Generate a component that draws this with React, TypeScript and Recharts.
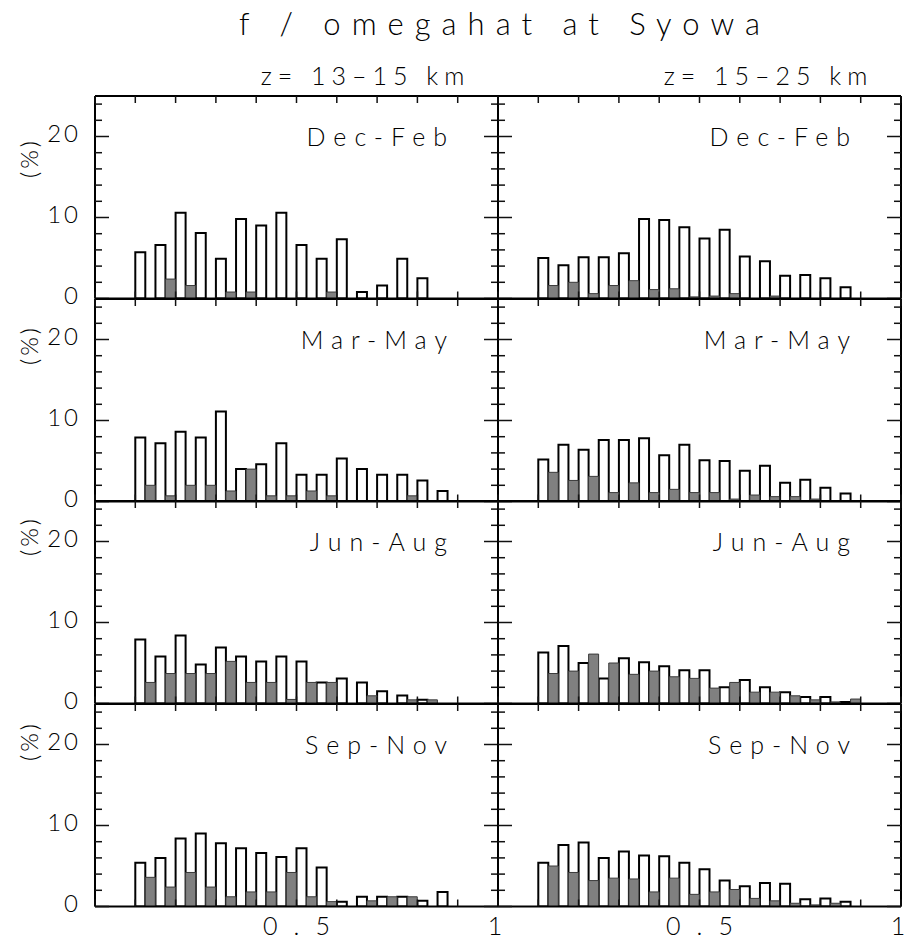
import React from 'react'
import { BarChart, Bar, XAxis, YAxis } from 'recharts'

// bin starts (width 0.05); open bar = first half, filled bar = second half
const bins = [0.1, 0.15, 0.2, 0.25, 0.3, 0.35, 0.4, 0.45, 0.5, 0.55, 0.6, 0.65, 0.7, 0.75, 0.8, 0.85]

const seasons = ['Dec-Feb', 'Mar-May', 'Jun-Aug', 'Sep-Nov']
const layers = ['z= 13–15 km', 'z= 15–25 km']

const djfLowOpen = [5.7, 6.6, 10.6, 8.1, 4.9, 9.8, 9.0, 10.6, 6.6, 4.9, 7.3, 0.8, 1.6, 4.9, 2.5, 0]
const djfLowFilled = [0, 2.4, 1.6, 0, 0.8, 0.8, 0, 0, 0, 0.8, 0, 0, 0, 0, 0, 0]
const djfHighOpen = [5.0, 4.1, 5.1, 5.1, 5.6, 9.8, 9.7, 8.8, 7.4, 8.5, 5.2, 4.6, 2.8, 2.9, 2.5, 1.4]
const djfHighFilled = [1.6, 2.0, 0.6, 1.6, 2.2, 1.1, 1.2, 0.2, 0.3, 0.6, 0, 0.3, 0, 0, 0, 0]

const mamLowOpen = [7.9, 7.2, 8.6, 7.9, 11.1, 4.0, 4.6, 7.2, 3.3, 3.3, 5.3, 4.0, 3.3, 3.3, 2.6, 1.3]
const mamLowFilled = [2.0, 0.7, 2.0, 2.0, 1.3, 4.0, 0.7, 0.7, 1.3, 0.7, 0, 0, 0, 0.7, 0, 0]
const mamHighOpen = [5.2, 7.0, 6.4, 7.6, 7.6, 7.8, 5.7, 7.0, 5.1, 5.0, 3.8, 4.4, 2.3, 2.7, 1.7, 1.0]
const mamHighFilled = [3.6, 2.6, 3.1, 1.1, 2.3, 1.1, 1.5, 1.1, 1.1, 0.3, 0.8, 0.6, 0.6, 0.3, 0, 0]

const jjaLowOpen = [7.9, 5.8, 8.4, 4.8, 6.9, 5.8, 5.2, 5.8, 5.2, 2.6, 3.1, 2.6, 1.5, 1.0, 0.45, 0]
const jjaLowFilled = [2.6, 3.7, 3.7, 3.7, 5.2, 2.6, 2.6, 0.5, 2.6, 2.6, 0, 0.95, 0, 0.45, 0.45, 0]
const jjaHighOpen = [6.3, 7.1, 5.0, 3.1, 5.6, 5.1, 4.6, 4.1, 4.1, 2.0, 2.9, 2.0, 1.4, 0.8, 0.8, 0.2]
const jjaHighFilled = [3.7, 4.0, 6.1, 5.0, 3.6, 4.0, 3.3, 3.1, 1.9, 2.6, 1.4, 1.4, 0.95, 0.45, 0.2, 0.55]

const sonLowOpen = [5.4, 6.0, 8.4, 9.0, 7.8, 7.2, 6.6, 6.1, 7.2, 4.8, 0.6, 1.2, 1.2, 1.2, 0.7, 1.8]
const sonLowFilled = [3.6, 2.4, 4.2, 2.4, 1.2, 1.8, 1.8, 4.2, 1.2, 0.6, 0, 0.7, 1.2, 1.2, 0, 0]
const sonHighOpen = [5.4, 7.6, 7.9, 6.0, 6.8, 6.3, 6.2, 5.4, 4.6, 3.2, 2.5, 2.9, 2.8, 0.9, 1.0, 0.6]
const sonHighFilled = [5.0, 4.2, 3.2, 3.5, 3.4, 1.8, 3.5, 1.5, 1.8, 2.1, 1.0, 0.7, 0.4, 0.2, 0.4, 0]

const panels = [
  [djfLowOpen, djfLowFilled, djfHighOpen, djfHighFilled],
  [mamLowOpen, mamLowFilled, mamHighOpen, mamHighFilled],
  [jjaLowOpen, jjaLowFilled, jjaHighOpen, jjaHighFilled],
  [sonLowOpen, sonLowFilled, sonHighOpen, sonHighFilled],
]

const xTicks = [0, 0.1, 0.2, 0.3, 0.4, 0.5, 0.6, 0.7, 0.8, 0.9, 1]
const yTicks = [0, 2, 4, 6, 8, 10, 12, 14, 16, 18, 20, 22, 24]

const FONT = 'Lato, "DejaVu Sans", sans-serif'
const PLOT_W = 403
const PLOT_H = 202.5
const ROW_TOP = [96, 298.5, 501, 703.5]
const COL_LEFT = [95, 498]
const PAD = 40
const AX = 1 // axes need a non-zero size to be drawn

const tickColor = '#111'

function BottomTick({ x, y, payload, showLabel }: any) {
  const v = payload.value
  const isOne = Math.abs(v - 1) < 1e-6
  const lbl = showLabel && (Math.abs(v - 0.5) < 1e-6 || isOne)
  return (
    <g>
      <line x1={x} y1={y} x2={x} y2={y - 7} stroke={tickColor} strokeWidth={1.5} />
      {lbl && (
        <text
          x={isOne ? x - 3 : x + 8}
          y={y + 22}
          textAnchor="middle"
          dominantBaseline="middle"
          fontFamily={FONT}
          fontWeight={300}
          fontSize={25}
          letterSpacing={isOne ? 0 : 16}
          fill="#000"
        >
          {isOne ? '1' : '0.5'}
        </text>
      )}
    </g>
  )
}

function TopTick({ x, y }: any) {
  return <line x1={x} y1={y} x2={x} y2={y + 7} stroke={tickColor} strokeWidth={1.5} />
}

function LeftTick({ x, y, payload, showLabel }: any) {
  const v = payload.value
  const major = v % 10 === 0
  return (
    <g>
      <line x1={x} y1={y} x2={x + (major ? 14 : 7)} y2={y} stroke={tickColor} strokeWidth={1.5} />
      {showLabel && major && (
        <text x={x - 14} y={y} textAnchor="end" dominantBaseline="middle" fontFamily={FONT} fontWeight={300} fontSize={24} letterSpacing={3} fill="#000">
          {v}
        </text>
      )}
    </g>
  )
}

function RightTick({ x, y, payload }: any) {
  const major = payload.value % 10 === 0
  return <line x1={x} y1={y} x2={x - (major ? 14 : 7)} y2={y} stroke={tickColor} strokeWidth={1.5} />
}

function Panel({ row, col }: { row: number; col: number }) {
  const open = panels[row][col * 2]
  const filled = panels[row][col * 2 + 1]
  const data = bins.map((b, i) => ({ x: b + 0.025, open: open[i], filled: filled[i] }))
  const mL = col === 0 ? 95 : PAD
  const mB = row === 3 ? 45 : PAD
  const isBottom = row === 3
  const axisLine = { stroke: '#000', strokeWidth: 2 }
  return (
    <div style={{ position: 'absolute', left: COL_LEFT[col] - mL - AX, top: ROW_TOP[row] - PAD - AX }}>
      <BarChart
        width={PLOT_W + mL + PAD + 2 * AX}
        height={PLOT_H + PAD + mB + 2 * AX}
        data={data}
        margin={{ top: PAD, right: PAD, bottom: mB, left: mL }}
        barCategoryGap={0}
        barGap={0}
      >
        <XAxis
          xAxisId="b"
          type="number"
          dataKey="x"
          domain={[0, 1]}
          ticks={xTicks}
          interval={0}
          height={AX}
          tickSize={0}
          tickMargin={0}
          tickLine={false}
          axisLine={axisLine}
          tick={(p: any) => <BottomTick {...p} showLabel={isBottom} />}
          allowDataOverflow
        />
        <XAxis
          xAxisId="t"
          orientation="top"
          type="number"
          dataKey="x"
          domain={[0, 1]}
          ticks={xTicks}
          interval={0}
          height={AX}
          tickSize={0}
          tickMargin={0}
          tickLine={false}
          axisLine={axisLine}
          tick={(p: any) => <TopTick {...p} />}
          allowDataOverflow
        />
        <YAxis
          yAxisId="l"
          type="number"
          domain={[0, 25]}
          ticks={yTicks}
          interval={0}
          width={AX}
          tickSize={0}
          tickMargin={0}
          tickLine={false}
          axisLine={axisLine}
          tick={(p: any) => <LeftTick {...p} showLabel={col === 0} />}
          allowDataOverflow
        />
        <YAxis
          yAxisId="r"
          orientation="right"
          type="number"
          domain={[0, 25]}
          ticks={yTicks}
          interval={0}
          width={AX}
          tickSize={0}
          tickMargin={0}
          tickLine={false}
          axisLine={axisLine}
          tick={(p: any) => <RightTick {...p} />}
          allowDataOverflow
        />
        <Bar xAxisId="b" yAxisId="l" dataKey="open" fill="#fff" stroke="#000" strokeWidth={2} isAnimationActive={false} />
        <Bar xAxisId="b" yAxisId="l" dataKey="filled" fill="#808080" stroke="#3a3a3a" strokeWidth={1} isAnimationActive={false} />
      </BarChart>
    </div>
  )
}

const yLabelCenter = [158, 345, 536, 741]

export default function App() {
  const txt: React.CSSProperties = { position: 'absolute', fontFamily: FONT, fontWeight: 300, color: '#000', whiteSpace: 'nowrap', lineHeight: 1 }
  return (
    <div style={{ position: 'absolute', left: 0, top: 0, width: 905, height: 947, background: '#fff', overflow: 'hidden' }}>
      {[0, 1, 2, 3].map((r) => [0, 1].map((c) => <Panel key={`${r}-${c}`} row={r} col={c} />))}
      <div style={{ ...txt, left: 0, width: 1010, top: 8, fontSize: 31, letterSpacing: 11, textAlign: 'center' }}>f / omegahat at Syowa</div>
      {layers.map((l, c) => (
        <div key={l} style={{ ...txt, left: COL_LEFT[c] - 40, width: PLOT_W + 218, top: 63, fontSize: 25, letterSpacing: 6, textAlign: 'center' }}>
          {l}
        </div>
      ))}
      {seasons.map((s, r) =>
        [0, 1].map((c) => (
          <div key={`${s}-${c}`} style={{ ...txt, left: COL_LEFT[c], width: PLOT_W - 51 + 8, top: ROW_TOP[r] + 28, fontSize: 25, letterSpacing: 8, textAlign: 'right' }}>
            {s}
          </div>
        )),
      )}
      {yLabelCenter.map((cy, r) => (
        <div key={r} style={{ ...txt, left: 29 - 30, top: cy - 12, width: 60, fontSize: 24, letterSpacing: 3, textAlign: 'center', transform: 'rotate(-90deg)' }}>
          (%)
        </div>
      ))}
    </div>
  )
}
